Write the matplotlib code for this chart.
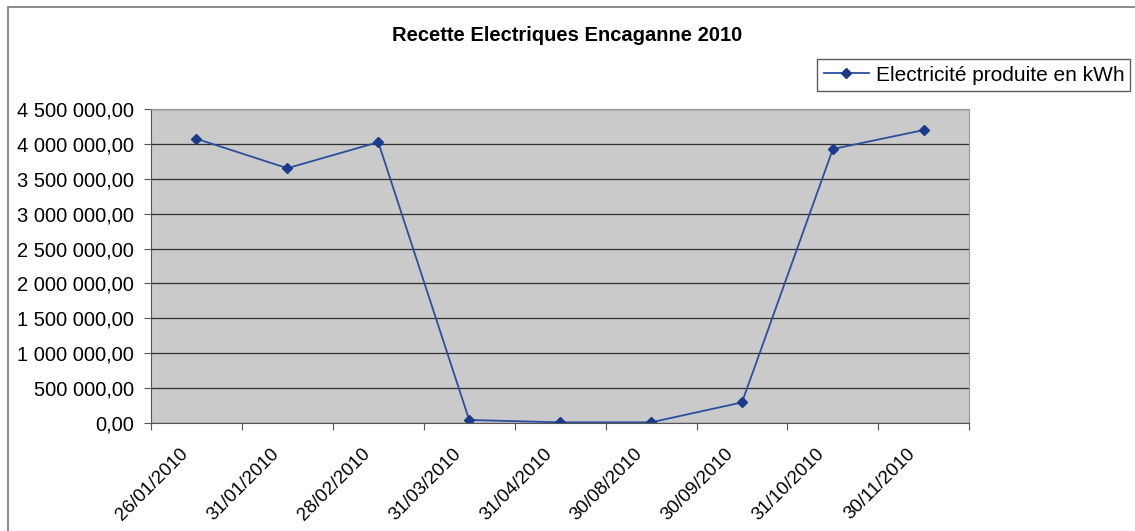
import numpy as np
import matplotlib.pyplot as plt
from matplotlib.ticker import FuncFormatter, MultipleLocator
from matplotlib.transforms import ScaledTranslation

''' Data '''
dates = ['26/01/2010', '31/01/2010', '28/02/2010', '31/03/2010', '31/04/2010',
         '30/08/2010', '30/09/2010', '31/10/2010', '30/11/2010']
kwh = [4078000, 3655000, 4029000, 39000, 5000, 5000, 291000, 3931000, 4203000]

title = 'Recette Electriques Encaganne 2010'
series_label = 'Electricité produite en kWh'

plt.rcParams['font.family'] = ['Liberation Sans', 'DejaVu Sans']

# French style number: 4 500 000,00
def fr_format(v, pos):
    s = '{:,.2f}'.format(v)
    return s.replace(',', ' ').replace('.', ',')

fig = plt.figure(figsize=(11.35, 5.31), dpi=100)
ax = fig.add_axes([0.133, 0.204, 0.721, 0.59])

x = np.arange(len(dates))
line, = ax.plot(x, kwh, color='#2b4f9f', linewidth=1.3, marker='D',
                markersize=5, markerfacecolor='#1c3a8a', markeredgecolor='#1c3a8a')

ax.set_facecolor('#cacaca')
ax.set_xlim(-0.5, len(dates) - 0.5)
ax.set_ylim(0, 4500000)
ax.yaxis.set_major_locator(MultipleLocator(500000))
ax.yaxis.set_major_formatter(FuncFormatter(fr_format))
ax.grid(axis='y', color='#303030', linewidth=0.9)
ax.set_axisbelow(True)

# ticks between categories, labels at category centres
ax.set_xticks(np.arange(-0.5, len(dates), 1.0))
ax.set_xticklabels([])
ax.set_xticks(x, minor=True)
ax.set_xticklabels(dates, minor=True, rotation=45, ha='right', rotation_mode='anchor')
ax.tick_params(axis='x', which='minor', length=0, pad=12, labelsize=13.5)
ax.tick_params(axis='x', which='major', length=5, color='#555555', direction='out')
ax.tick_params(axis='y', length=5, color='#555555', labelsize=14.5, pad=7)

# nudge the rotated labels like the spreadsheet does
shift = ScaledTranslation(-0.17, -0.06, fig.dpi_scale_trans)
for lab in ax.get_xticklabels(minor=True):
    lab.set_transform(lab.get_transform() + shift)

for side in ['top', 'right']:
    ax.spines[side].set_color('#999999')
for side in ['left', 'bottom']:
    ax.spines[side].set_color('#555555')

fig.text(0.5, 0.934, title, ha='center', va='center', fontsize=14.5, fontweight='bold')

fig.legend([line], [series_label], loc='upper right', bbox_to_anchor=(0.996, 0.888),
           fontsize=15, frameon=True, fancybox=False, edgecolor='#333333',
           borderpad=0.3, handlelength=2.2, handletextpad=0.3, borderaxespad=0)

# outer chart border
fig.patches.append(plt.Rectangle((0.007, -0.01), 1.1, 0.996, transform=fig.transFigure,
                                 fill=False, edgecolor='#777777', linewidth=1.2))

fig.savefig('out.png', dpi=100)
